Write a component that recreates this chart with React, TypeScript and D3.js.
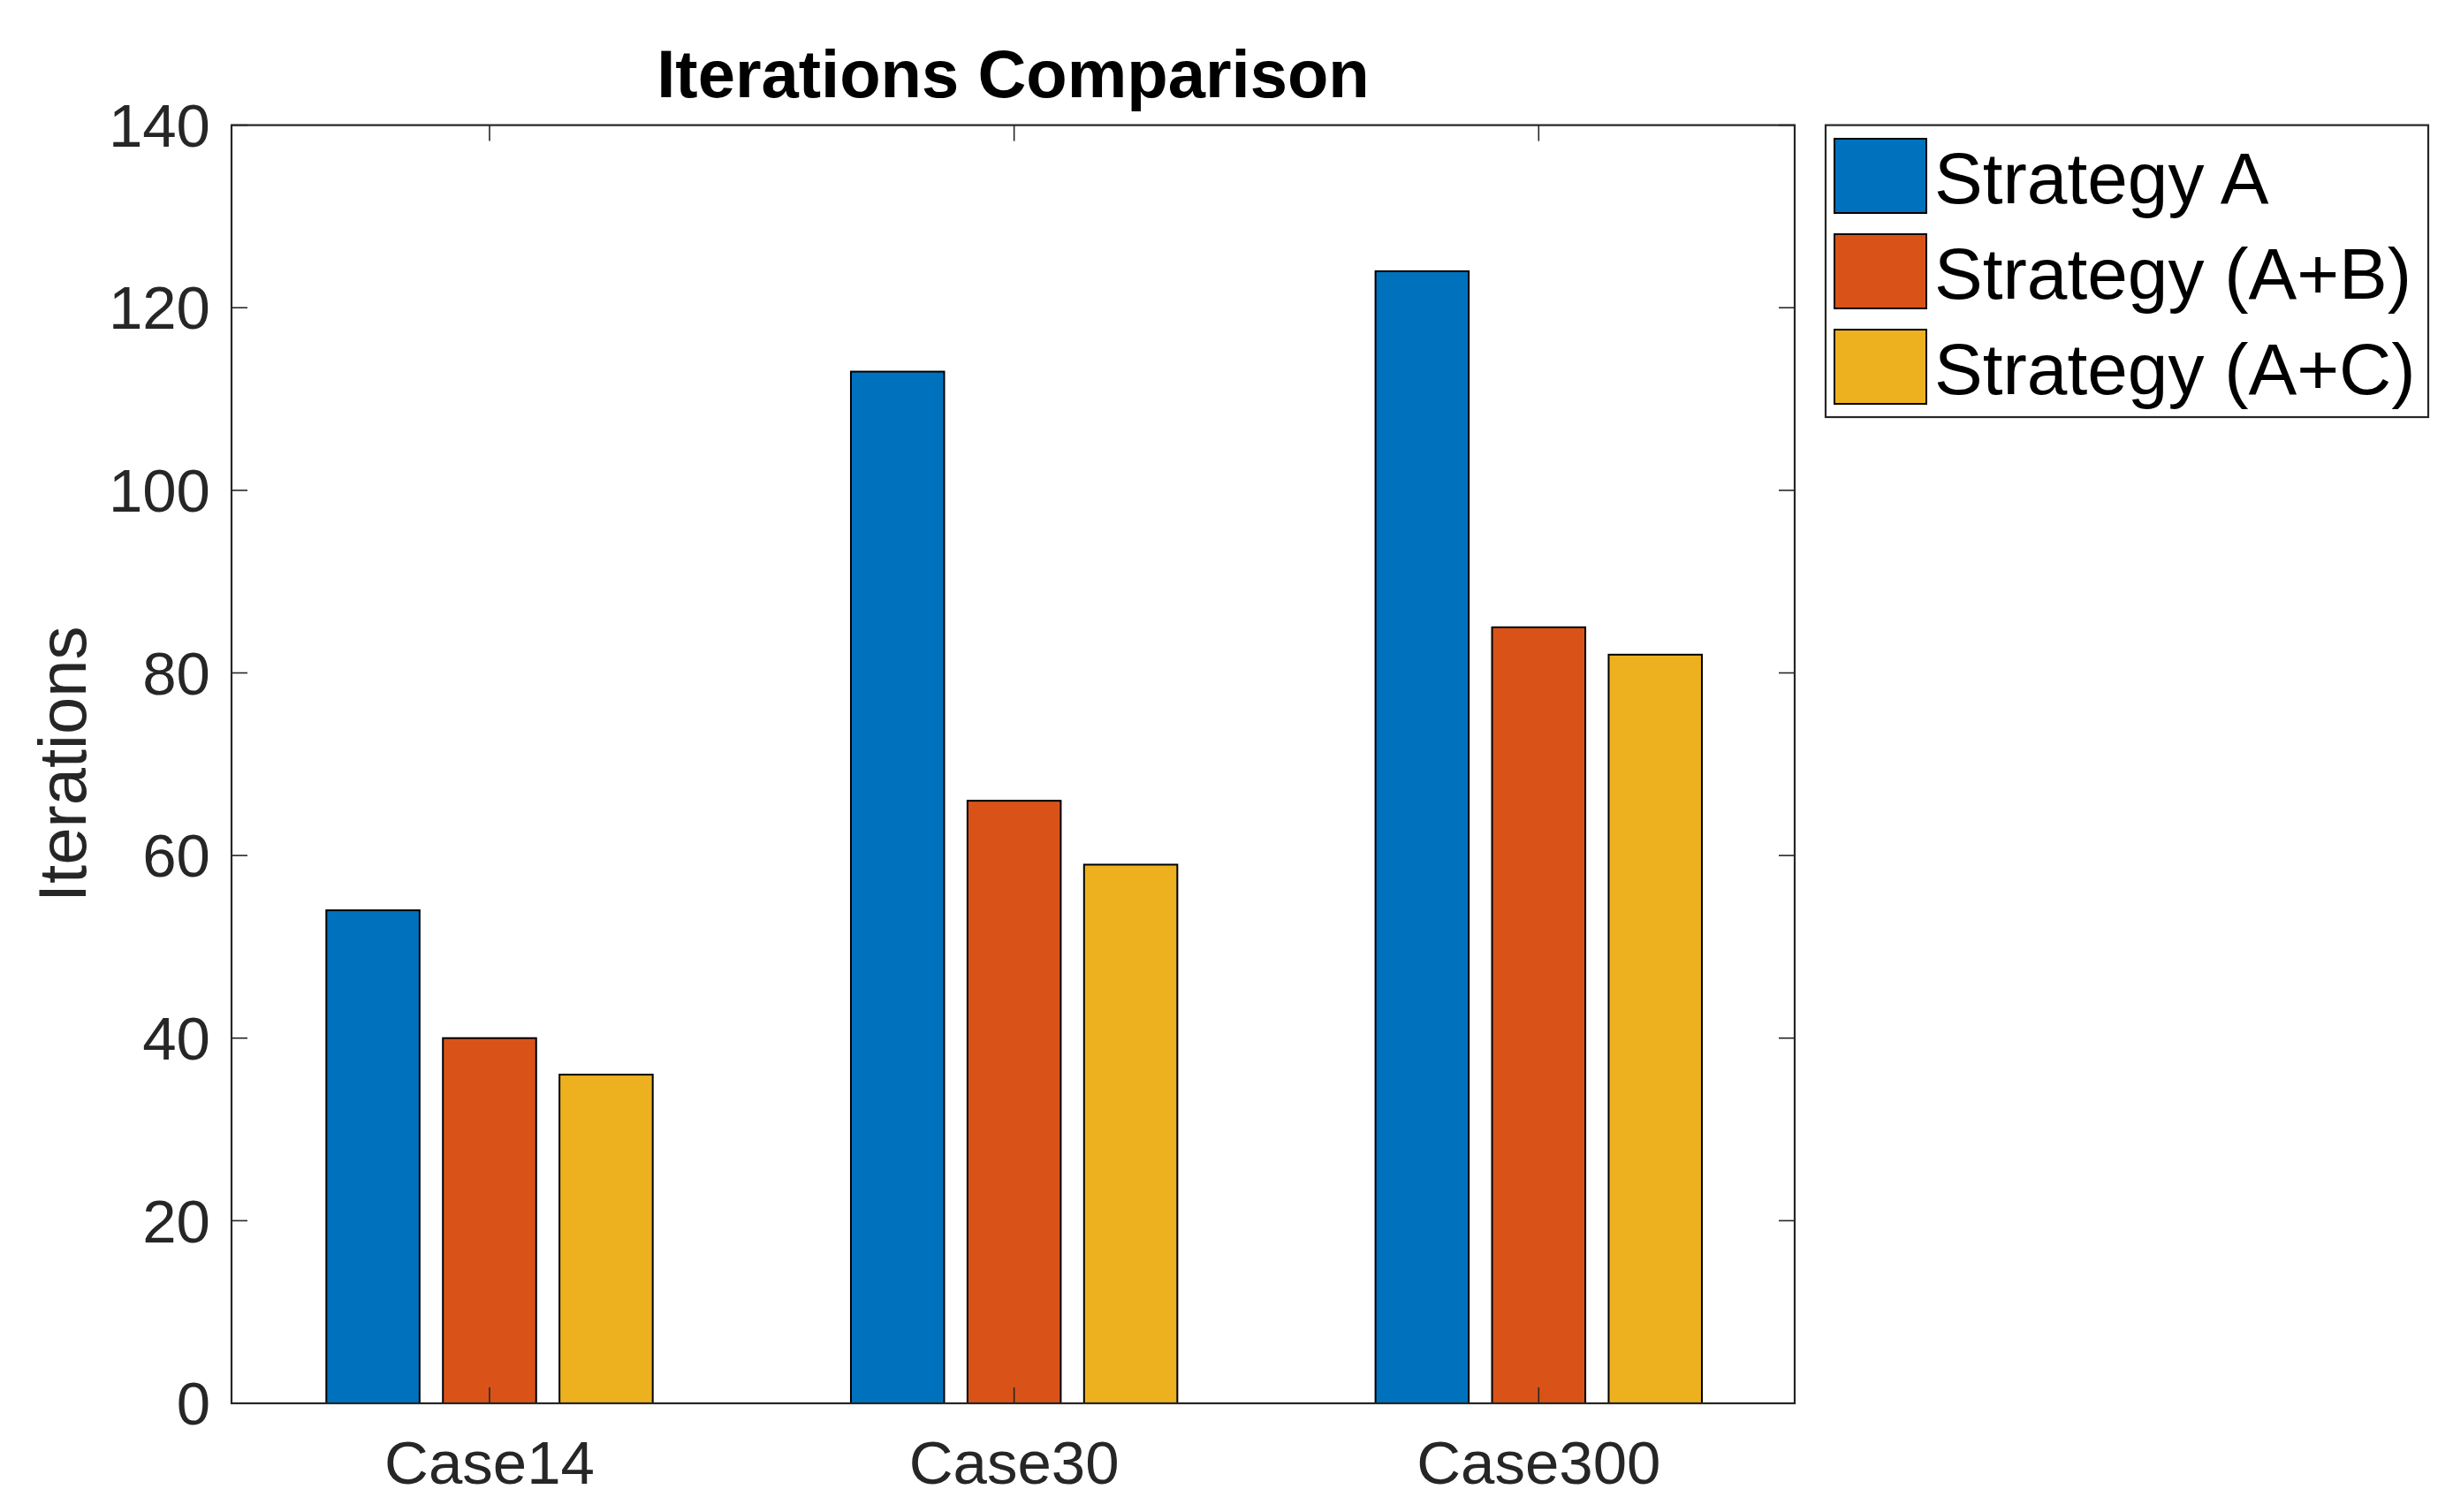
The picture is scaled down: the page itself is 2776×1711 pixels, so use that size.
import { useEffect, useRef } from 'react';
import * as d3 from 'd3';

// ── Data ──
const categories = ['Case14', 'Case30', 'Case300'];
const seriesNames = ['Strategy A', 'Strategy (A+B)', 'Strategy (A+C)'];
const strategyA = [54, 113, 124];
const strategyAB = [40, 66, 85];
const strategyAC = [36, 59, 82];
const yTicks = [0, 20, 40, 60, 80, 100, 120, 140];
const seriesColors = ['#0072BD', '#D95319', '#EDB120'];

const W = 2776;
const H = 1711;
const FONT = '"Liberation Sans", Arial, Helvetica, sans-serif';
const AX = '#262626';

export default function App() {
  const svgRef = useRef<SVGSVGElement>(null);

  useEffect(() => {
    const svgEl = svgRef.current;
    if (!svgEl) return;
    const svg = d3.select(svgEl);
    svg.selectAll('*').remove();

    const left = 262, right = 2031, top = 141.6, bottom = 1588;
    const series = [strategyA, strategyAB, strategyAC];

    // category 1 and 3 centres, as measured
    const x = d3.scaleLinear().domain([1, 3]).range([554, 1741.3]);
    const y = d3.scaleLinear().domain([0, 140]).range([bottom, top]);

    // matlab-style grouped bar geometry
    const n = series.length;
    const groupW = Math.min(0.8, n / (n + 1.5));
    const step = groupW / n;
    const barW = 0.8 * step;
    const unit = x(1) - x(0);

    svg.append('rect').attr('width', W).attr('height', H).attr('fill', '#fff');

    // ── Bars ──
    series.forEach((vals, si) => {
      const off = (si - (n - 1) / 2) * step;
      svg.append('g').selectAll('rect')
        .data(vals)
        .join('rect')
        .attr('x', (_, i) => x(i + 1 + off) - (barW * unit) / 2)
        .attr('y', d => y(d))
        .attr('width', barW * unit)
        .attr('height', d => y(0) - y(d))
        .attr('fill', seriesColors[si])
        .attr('stroke', '#000')
        .attr('stroke-width', 2);
    });

    // ── Axes box + ticks ──
    const tickLen = 18;
    const ax = svg.append('g').attr('stroke', AX).attr('fill', 'none');
    yTicks.forEach(t => {
      ax.append('line').attr('x1', left).attr('x2', left + tickLen).attr('y1', y(t)).attr('y2', y(t)).attr('stroke-width', 1.6);
      ax.append('line').attr('x1', right).attr('x2', right - tickLen).attr('y1', y(t)).attr('y2', y(t)).attr('stroke-width', 1.6);
    });
    categories.forEach((_, i) => {
      ax.append('line').attr('x1', x(i + 1)).attr('x2', x(i + 1)).attr('y1', bottom).attr('y2', bottom - tickLen).attr('stroke-width', 1.6);
      ax.append('line').attr('x1', x(i + 1)).attr('x2', x(i + 1)).attr('y1', top).attr('y2', top + tickLen).attr('stroke-width', 1.6);
    });
    ax.append('rect')
      .attr('x', left).attr('y', top)
      .attr('width', right - left).attr('height', bottom - top)
      .attr('stroke-width', 2.2);

    // ── Tick labels ──
    svg.append('g').selectAll('text')
      .data(yTicks)
      .join('text')
      .attr('x', left - 24)
      .attr('y', d => y(d))
      .attr('dy', '0.35em')
      .attr('text-anchor', 'end')
      .attr('font-family', FONT)
      .attr('font-size', 69)
      .attr('fill', AX)
      .text(d => d);

    svg.append('g').selectAll('text')
      .data(categories)
      .join('text')
      .attr('x', (_, i) => x(i + 1))
      .attr('y', 1679)
      .attr('text-anchor', 'middle')
      .attr('font-family', FONT)
      .attr('font-size', 69)
      .attr('fill', AX)
      .text(d => d);

    // ── Y label ──
    svg.append('text')
      .attr('transform', `translate(97, ${(top + bottom) / 2}) rotate(-90)`)
      .attr('text-anchor', 'middle')
      .attr('font-family', FONT)
      .attr('font-size', 76)
      .attr('fill', AX)
      .text('Iterations');

    // ── Title ──
    svg.append('text')
      .attr('x', (left + right) / 2)
      .attr('y', 110)
      .attr('text-anchor', 'middle')
      .attr('font-family', FONT)
      .attr('font-weight', 'bold')
      .attr('font-size', 76)
      .attr('fill', '#000')
      .text('Iterations Comparison');

    // ── Legend ──
    const lg = svg.append('g');
    lg.append('rect')
      .attr('x', 2066).attr('y', 141.6)
      .attr('width', 2748 - 2066).attr('height', 472 - 141.6)
      .attr('fill', '#fff').attr('stroke', AX).attr('stroke-width', 2.2);
    seriesNames.forEach((name, i) => {
      const cy = 199 + i * 108;
      lg.append('rect')
        .attr('x', 2076).attr('y', cy - 42)
        .attr('width', 104).attr('height', 84)
        .attr('fill', seriesColors[i]).attr('stroke', '#000').attr('stroke-width', 2);
      lg.append('text')
        .attr('x', 2189)
        .attr('y', cy + 31)
        .attr('font-family', FONT)
        .attr('font-size', 82)
        .attr('fill', '#000')
        .text(name);
    });
  }, []);

  return (
    <svg
      ref={svgRef}
      width={W}
      height={H}
      style={{ position: 'absolute', left: 0, top: 0, display: 'block' }}
    />
  );
}
